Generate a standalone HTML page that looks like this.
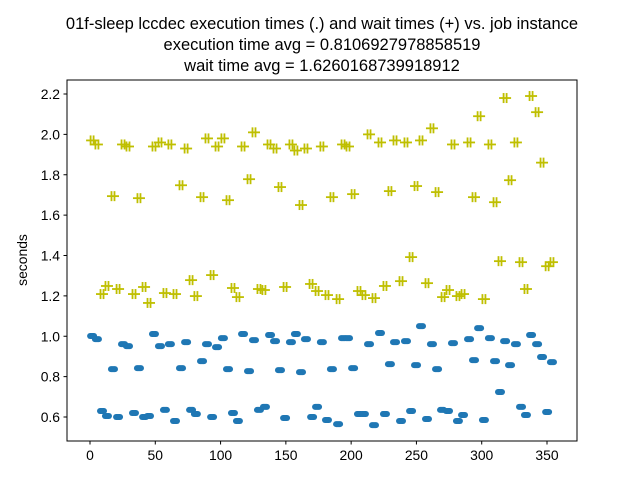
<!DOCTYPE html>
<html><head><meta charset="utf-8"><style>
body{margin:0;background:#fff;}
svg text{font-family:"Liberation Sans","DejaVu Sans",sans-serif;fill:#000;}
</style></head><body>
<svg id="chart" width="640" height="480" viewBox="0 0 640 480" xmlns="http://www.w3.org/2000/svg">
<rect width="640" height="480" fill="#fff"/>
<g font-size="16.5" text-anchor="middle">
<text x="322" y="29">01f-sleep lccdec execution times (.) and wait times (+) vs. job instance</text>
<text x="322" y="50">execution time avg = 0.8106927978858519</text>
<text x="322" y="71">wait time avg = 1.6260168739918912</text>
</g>
<g id="marks"></g>
<rect x="67" y="80" width="510" height="361" fill="none" stroke="#000" stroke-width="1"/>
<g id="axes"></g>
<text x="27" y="260" font-size="13.9" text-anchor="middle" transform="rotate(-90 27 260)">seconds</text>
</svg>
<script>
const xTicks=[0,50,100,150,200,250,300,350];
const yTicks=[0.6,0.8,1.0,1.2,1.4,1.6,1.8,2.0,2.2];
const yTickLabels=["0.6","0.8","1.0","1.2","1.4","1.6","1.8","2.0","2.2"];
const waitX=[1.6,5.3,25.3,29.1,49.0,53.6,61.2,73.6,89.6,97.3,101.8,117.2,125.6,137.1,141.7,153.9,157.7,165.4,177.6,193.8,197.6,213.7,222.1,233.6,242.0,253.5,261.9,278.0,290.3,298.0,306.3,317.9,326.2,337.8,342.4,346.2,
17.6,37.5,69.7,85.8,105.7,121.8,145.5,161.6,185.3,201.5,229.7,249.7,265.8,294.1,310.2,321.7,
9.2,13.0,21.5,33.7,41.4,45.2,57.4,65.1,77.4,81.1,93.5,109.5,113.3,129.4,133.2,149.4,169.3,173.9,181.5,190.0,206.0,209.8,217.5,225.9,238.2,245.9,258.1,270.4,274.2,281.8,285.7,301.7,314.0,330.1,333.9,350.1,353.8];
const waitY=[1.97,1.95,1.95,1.94,1.94,1.96,1.95,1.93,1.98,1.94,1.98,1.94,2.01,1.95,1.93,1.95,1.92,1.93,1.94,1.95,1.94,2.00,1.96,1.97,1.96,1.97,2.03,1.95,1.96,2.09,1.95,2.18,1.96,2.19,2.11,1.86,
1.694,1.684,1.748,1.689,1.674,1.778,1.739,1.650,1.689,1.704,1.719,1.744,1.714,1.689,1.664,1.773,
1.209,1.249,1.234,1.209,1.244,1.165,1.214,1.209,1.278,1.199,1.303,1.239,1.194,1.234,1.229,1.244,1.259,1.224,1.204,1.184,1.224,1.204,1.189,1.249,1.273,1.392,1.263,1.194,1.229,1.199,1.209,1.184,1.372,1.367,1.234,1.347,1.367];
const execX=[1.6,5.3,25.3,29.1,49.0,53.6,61.2,73.6,89.6,97.3,101.8,117.2,125.6,137.9,141.7,153.9,157.7,165.4,177.6,193.8,197.6,213.7,222.1,233.6,242.0,253.5,261.9,278.0,290.3,298.0,306.3,317.9,326.2,337.8,342.4,
17.6,37.5,69.7,85.8,105.7,121.8,145.5,161.6,185.3,201.5,229.7,249.7,265.8,294.1,310.2,321.7,346.2,353.8,
9.2,13.0,21.5,33.7,41.4,45.2,57.4,65.1,77.4,81.1,93.5,109.5,113.3,129.4,134.0,149.4,170.1,173.9,181.5,190.0,206.0,209.8,217.5,225.9,238.2,245.9,258.1,269.6,274.2,281.8,285.7,301.7,314.0,330.1,333.9,350.1];
const execY=[1.001,0.986,0.961,0.951,1.011,0.951,0.961,0.971,0.961,0.946,0.991,1.011,0.981,1.006,0.976,0.971,1.011,0.986,0.971,0.991,0.991,0.961,1.016,0.971,0.976,1.050,0.961,0.966,0.986,1.040,0.991,0.976,0.961,1.006,0.961,
0.837,0.842,0.842,0.877,0.837,0.827,0.832,0.822,0.837,0.842,0.862,0.857,0.837,0.882,0.877,0.857,0.897,0.872,
0.630,0.605,0.600,0.620,0.600,0.605,0.635,0.580,0.635,0.615,0.600,0.620,0.580,0.635,0.650,0.595,0.600,0.650,0.585,0.565,0.615,0.615,0.560,0.615,0.580,0.630,0.590,0.635,0.630,0.580,0.610,0.585,0.724,0.650,0.610,0.625];

const NS="http://www.w3.org/2000/svg";
function xs(v){return 90+(v-0)*(547-90)/350;}
function ys(v){return 417-(v-0.6)*(417-94)/1.6;}
const marks=document.getElementById('marks');
const axes=document.getElementById('axes');
function mk(tag,attrs,parent){const e=document.createElementNS(NS,tag);for(const k in attrs)e.setAttribute(k,attrs[k]);parent.appendChild(e);return e;}
for(let i=0;i<execX.length;i++){
  const e=mk('rect',{x:xs(execX[i])-5,y:ys(execY[i])-3,width:10,height:6,rx:3,ry:3,fill:'#1f77b4'},marks);
  
  
}
for(let i=0;i<waitX.length;i++){
  const cx=xs(waitX[i]),cy=ys(waitY[i]);
  const g=mk('g',{stroke:'#bfbf00','stroke-width':'1.8'},marks);
  
  
  mk('line',{x1:cx-6,y1:cy,x2:cx+6,y2:cy},g);
  mk('line',{x1:cx-1.5,y1:cy-5,x2:cx-1.5,y2:cy+5},g);
  mk('line',{x1:cx+1.5,y1:cy-5,x2:cx+1.5,y2:cy+5},g);
}
for(let i=0;i<xTicks.length;i++){
  const x=xs(xTicks[i]);
  const t=mk('line',{x1:x,y1:441,x2:x,y2:444.5,stroke:'#000','stroke-width':1},axes);
  
  
  const l=mk('text',{x:x,y:460,'font-size':'13.9','text-anchor':'middle'},axes);
  l.textContent=xTicks[i];
  
  
}
for(let i=0;i<yTicks.length;i++){
  const y=ys(yTicks[i]);
  const t=mk('line',{x1:63.5,y1:y,x2:67,y2:y,stroke:'#000','stroke-width':1},axes);
  
  
  const l=mk('text',{x:60,y:y+5,'font-size':'13.9','text-anchor':'end'},axes);
  l.textContent=yTickLabels[i];
  
  
}
</script>
</body></html>
